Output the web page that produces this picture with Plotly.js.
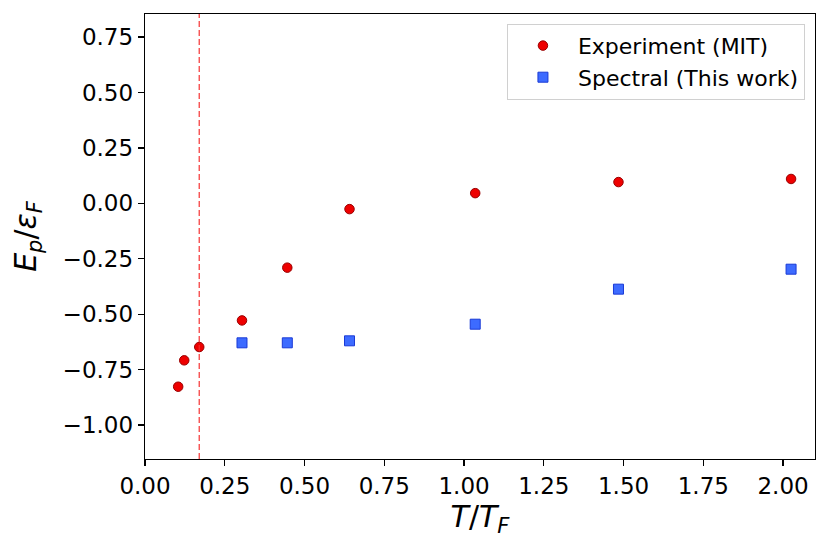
<!DOCTYPE html>
<html>
<head>
<meta charset="utf-8">
<script src="https://cdn.plot.ly/plotly-3.0.1.min.js"></script>
<style>
  html, body { margin: 0; padding: 0; background: #fff; }
  #graph { width: 830px; height: 549px; }
</style>
</head>
<body>
<div id="graph"></div>
<script>
'use strict';

// Experiment (MIT)
var expT = [0.104, 0.123, 0.170, 0.304, 0.446, 0.641, 1.035, 1.484, 2.025];
var expE = [-0.827, -0.708, -0.648, -0.528, -0.290, -0.026, 0.046, 0.096, 0.110];

// Spectral (this work)
var specT = [0.304, 0.446, 0.641, 1.035, 1.484, 2.025];
var specE = [-0.629, -0.629, -0.620, -0.545, -0.387, -0.297];

// dashed marker line
var criticalT = 0.170;

var tickFont = { family: 'DejaVu Sans, sans-serif', size: 23, color: '#000' };
var titleFont = { family: 'DejaVu Sans, sans-serif', size: 30, color: '#000' };

var axisBase = {
  showline: true,
  linecolor: '#000',
  linewidth: 1.3,
  mirror: true,
  ticks: 'outside',
  ticklen: 6,
  tickwidth: 1.3,
  tickcolor: '#000',
  showgrid: false,
  zeroline: false,
  tickfont: tickFont,
  tickformat: '.2f'
};

var data = [
  {
    x: expT, y: expE,
    type: 'scatter', mode: 'markers',
    name: 'Experiment (MIT)',
    marker: { symbol: 'circle', size: 9.5, color: '#ee0000', line: { color: '#990000', width: 1 } }
  },
  {
    x: specT, y: specE,
    type: 'scatter', mode: 'markers',
    name: 'Spectral (This work)',
    marker: { symbol: 'square', size: 10, color: '#3d6bff', line: { color: '#1a3ad6', width: 1 } }
  }
];

var layout = {
  width: 830,
  height: 549,
  margin: { l: 145, r: 15, t: 14, b: 90 },
  paper_bgcolor: '#fff',
  plot_bgcolor: '#fff',
  showlegend: true,
  legend: {
    x: 0.985, y: 0.978, xanchor: 'right', yanchor: 'top',
    bgcolor: 'rgba(255,255,255,0.8)',
    bordercolor: '#d0d0d0', borderwidth: 1,
    font: { family: 'DejaVu Sans, sans-serif', size: 22, color: '#000' },
    itemwidth: 60
  },
  xaxis: Object.assign({}, axisBase, {
    range: [0, 2.1],
    dtick: 0.25, tick0: 0,
    title: { text: '<i>T</i>/<i>T</i><sub><i>F</i></sub>', font: titleFont, standoff: 6 }
  }),
  yaxis: Object.assign({}, axisBase, {
    range: [-1.153, 0.854],
    dtick: 0.25, tick0: 0,
    title: { text: '<i>E</i><sub><i>p</i></sub>/<i>ε</i><sub><i>F</i></sub>', font: titleFont, standoff: 17 }
  }),
  shapes: [
    {
      type: 'line', xref: 'x', yref: 'paper',
      x0: criticalT, x1: criticalT, y0: 0, y1: 1,
      line: { color: 'rgba(245,45,45,0.9)', width: 1.3, dash: '6px,3px' }
    }
  ]
};

Plotly.newPlot('graph', data, layout, { displayModeBar: false, staticPlot: true });
</script>
</body>
</html>
